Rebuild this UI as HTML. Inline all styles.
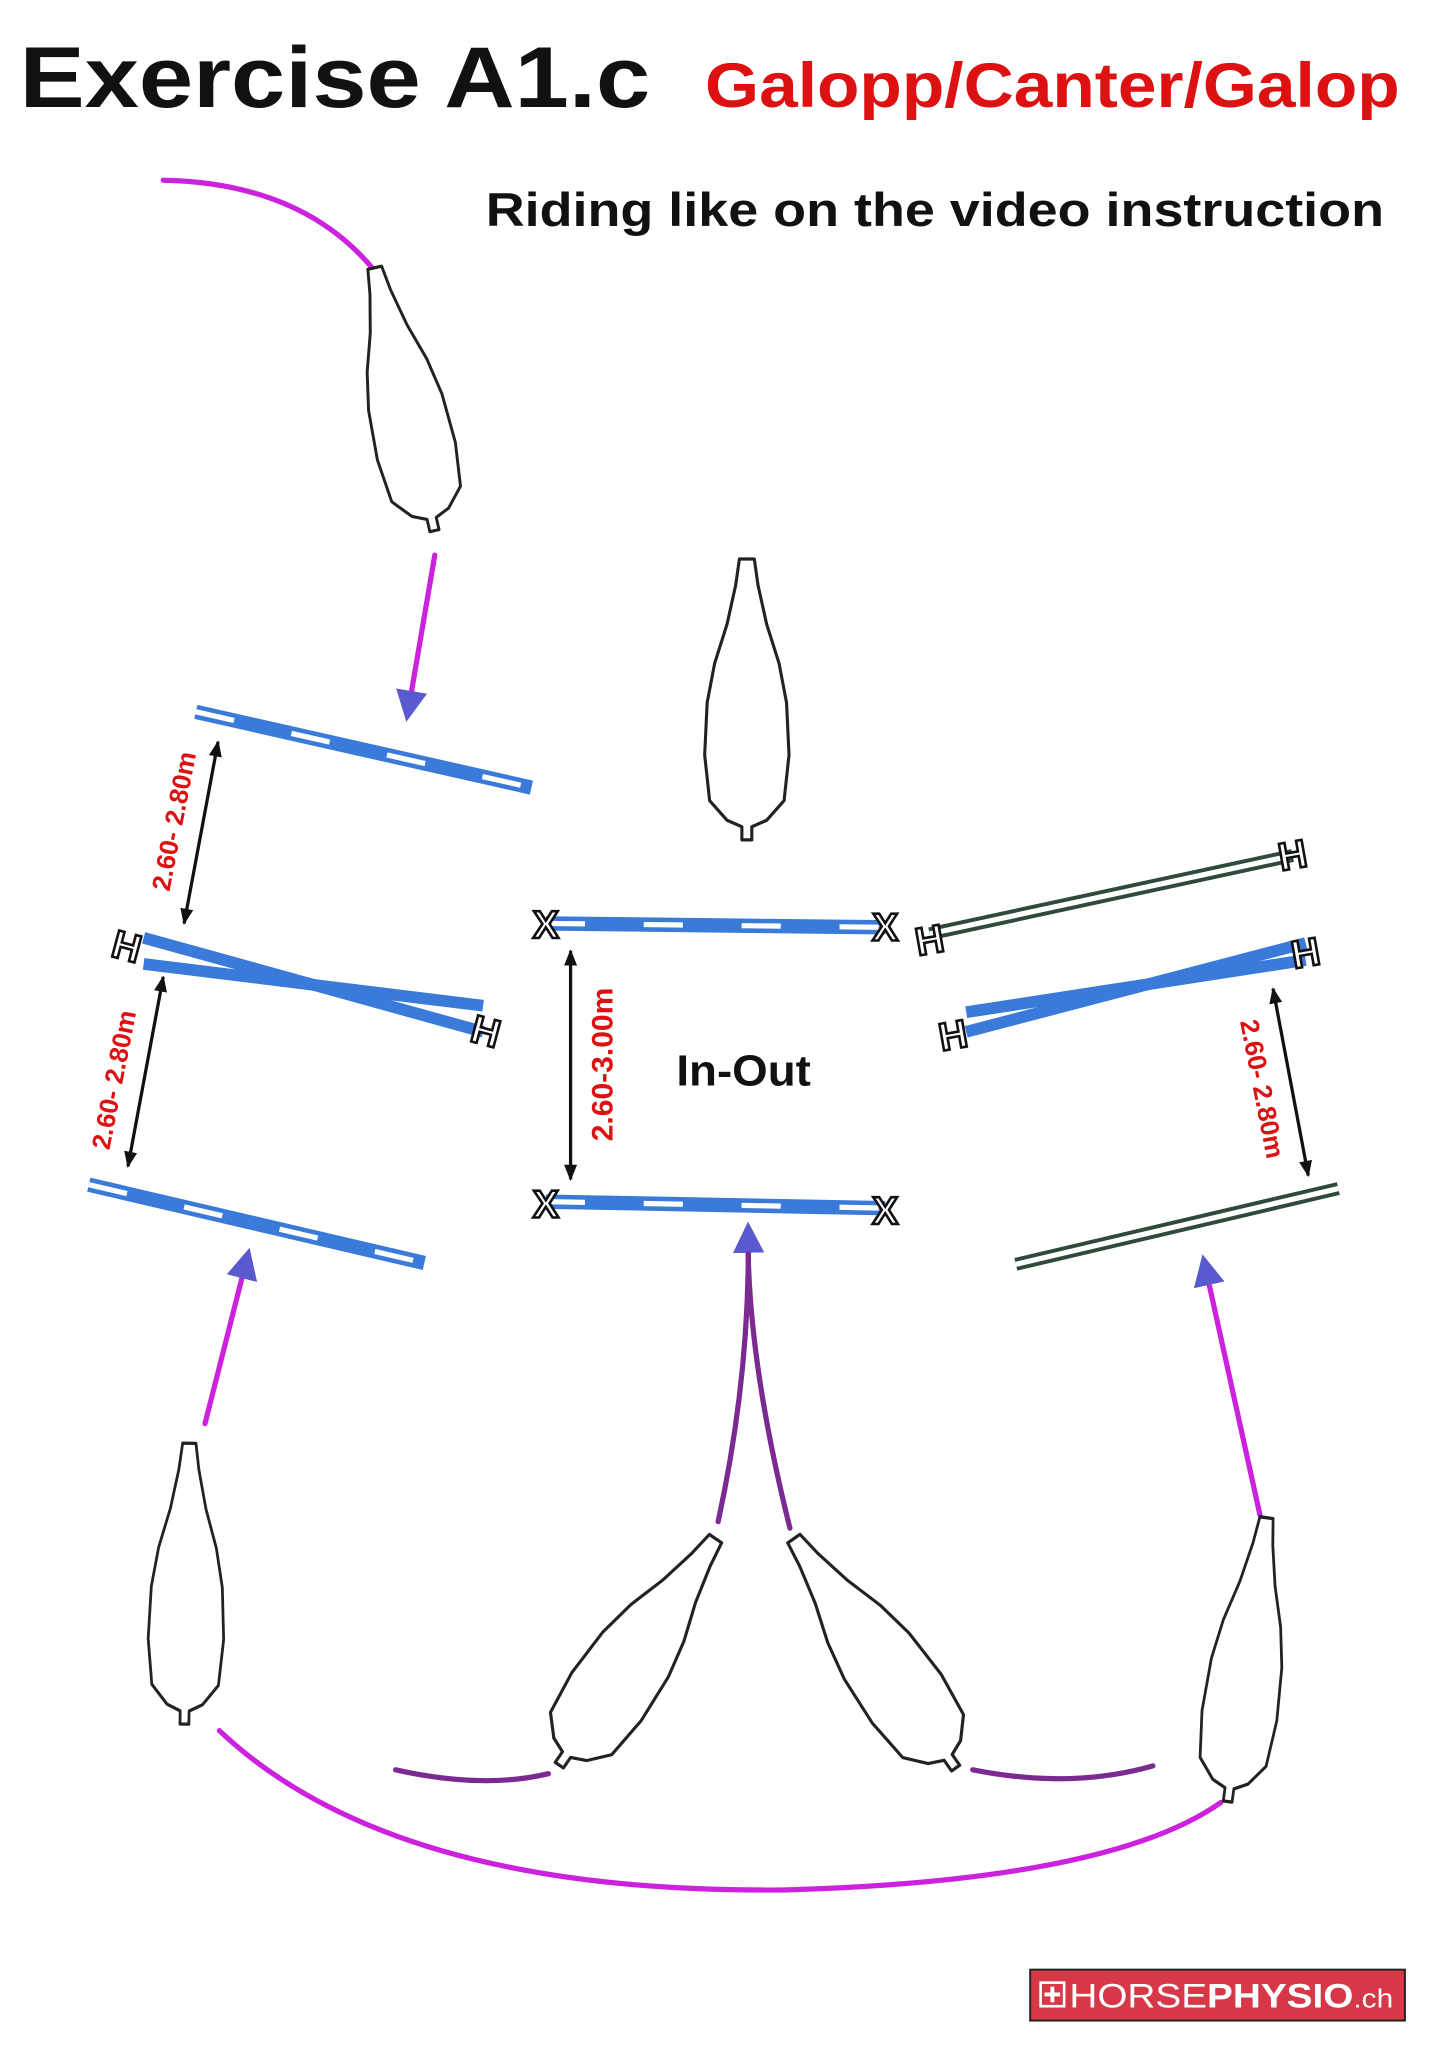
<!DOCTYPE html>
<html><head><meta charset="utf-8"><style>
html,body{margin:0;padding:0;background:#fff;}
svg{display:block;}
text{font-family:"Liberation Sans",sans-serif;}
</style></head><body>
<svg width="1448" height="2048" viewBox="0 0 1109 1568" preserveAspectRatio="none" xmlns="http://www.w3.org/2000/svg">
<defs>
<path id="horse" d="M-6,0 L6,0 L9,20 L16,50 L26,80 L32,110 L34,150 L30,185 L16,200 L4,205 L4,215 L-4,215 L-4,205 L-16,200 L-30,185 L-34,150 L-32,110 L-26,80 L-16,50 L-9,20 Z" fill="#fff" stroke="#222" stroke-width="2.5" stroke-linejoin="round"/>
<marker id="bh" viewBox="0 0 10 10" refX="8" refY="5" markerWidth="6" markerHeight="6" orient="auto-start-reverse"><path d="M0,0 L10,5 L0,10 Z" fill="#5a5ad0"/></marker>
<marker id="kh" viewBox="0 0 10 10" refX="9" refY="5" markerWidth="5" markerHeight="5" orient="auto-start-reverse"><path d="M0,1 L10,5 L0,9 Z" fill="#111"/></marker>
</defs>
<rect width="1109" height="1568" fill="#fff"/>
<text x="15" y="82" font-size="66" font-weight="bold" fill="#111" textLength="483" lengthAdjust="spacingAndGlyphs">Exercise A1.c</text>
<text x="540" y="82" font-size="48" font-weight="bold" fill="#d11" textLength="532" lengthAdjust="spacingAndGlyphs">Galopp/Canter/Galop</text>
<text x="372" y="173" font-size="36" font-weight="bold" fill="#111" textLength="688" lengthAdjust="spacingAndGlyphs">Riding like on the video instruction</text>

<g fill="none" stroke="#cc22dd" stroke-width="4" stroke-linecap="round">
<path d="M125,138 Q230,140 285,205"/>
<path d="M333,425 L312,548" marker-end="url(#bh)"/>
<path d="M157,1090 L190,960" marker-end="url(#bh)"/>
<path d="M965,1160 L922,965" marker-end="url(#bh)"/>
<path d="M168,1325 Q300,1450 600,1447 Q850,1440 935,1380"/>
</g>
<g fill="none" stroke="#7a2a90" stroke-width="4" stroke-linecap="round">
<path d="M550,1165 Q575,1050 573,940" marker-end="url(#bh)"/>
<path d="M605,1170 Q575,1050 573,960"/>
<path d="M303,1355 Q370,1370 420,1358"/>
<path d="M745,1355 Q820,1370 883,1352"/>
</g>

<use href="#horse" transform="translate(287,205) rotate(-12.8) scale(0.9,0.96)"/>
<use href="#horse" transform="translate(572,428) scale(0.95,1)"/>
<use href="#horse" transform="translate(145,1105) rotate(1) scale(0.85,1)"/>
<use href="#horse" transform="translate(548,1178) rotate(34.6) scale(0.95,0.98)"/>
<use href="#horse" transform="translate(608,1178) rotate(-35.2) scale(0.95,1)"/>
<use href="#horse" transform="translate(970,1162) rotate(7.8) scale(0.85,1.02)"/>

<g stroke-linecap="butt">
<g stroke="#3a7ad8"><line x1="150" y1="545" x2="407" y2="603" stroke-width="11"/><line x1="68" y1="907" x2="325" y2="967" stroke-width="11"/>
<line x1="418" y1="707" x2="678" y2="710" stroke-width="11"/><line x1="418" y1="920" x2="678" y2="925" stroke-width="11"/>
<line x1="110" y1="718" x2="370" y2="790" stroke-width="9"/><line x1="110" y1="738" x2="370" y2="770" stroke-width="9"/>
<line x1="740" y1="790" x2="1000" y2="722" stroke-width="9"/><line x1="740" y1="775" x2="1000" y2="735" stroke-width="9"/></g>
<g stroke="#fff" stroke-width="4" stroke-dasharray="30,45"><line x1="150" y1="545" x2="407" y2="603"/><line x1="68" y1="907" x2="325" y2="967"/>
<line x1="418" y1="707" x2="678" y2="710"/><line x1="418" y1="920" x2="678" y2="925"/></g>
<g stroke="#2f4a3a" stroke-width="10"><line x1="712" y1="715" x2="990" y2="655"/><line x1="778" y1="968" x2="1025" y2="910"/></g>
<g stroke="#fff" stroke-width="4"><line x1="712" y1="715" x2="990" y2="655"/><line x1="778" y1="968" x2="1025" y2="910"/></g>
</g>
<g font-size="30" font-weight="bold" fill="#fff" stroke="#111" stroke-width="2" text-anchor="middle">
<text x="97" y="735" transform="rotate(15 97 725)">H</text>
<text x="372" y="800" transform="rotate(15 372 790)">H</text>
<text x="712" y="730" transform="rotate(-10 712 720)">H</text>
<text x="990" y="665" transform="rotate(-10 990 655)">H</text>
<text x="1000" y="740" transform="rotate(-10 1000 730)">H</text>
<text x="730" y="803" transform="rotate(-10 730 793)">H</text>
<text x="418" y="718">X</text><text x="678" y="720">X</text>
<text x="418" y="932">X</text><text x="678" y="937">X</text>
</g>

<g stroke="#111" stroke-width="2.5" fill="none">
<line x1="167" y1="568" x2="141" y2="707" marker-start="url(#kh)" marker-end="url(#kh)"/>
<line x1="125" y1="748" x2="98" y2="893" marker-start="url(#kh)" marker-end="url(#kh)"/>
<line x1="437" y1="728" x2="437" y2="903" marker-start="url(#kh)" marker-end="url(#kh)"/>
<line x1="975" y1="757" x2="1002" y2="900" marker-start="url(#kh)" marker-end="url(#kh)"/>
</g>
<g font-size="20" font-weight="bold" fill="#d11" text-anchor="middle">
<text transform="translate(140,630) rotate(-79)">2.60- 2.80m</text>
<text transform="translate(94,828) rotate(-79)">2.60- 2.80m</text>
<text transform="translate(469,815) rotate(-90)" font-size="23">2.60-3.00m</text>
<text transform="translate(960,835) rotate(79)">2.60- 2.80m</text>
</g>
<text x="518" y="831" font-size="33" font-weight="bold" fill="#111" textLength="103" lengthAdjust="spacingAndGlyphs">In-Out</text>

<rect x="789" y="1508" width="287" height="39" fill="#d63848" stroke="#222" stroke-width="1.5"/>
<rect x="797" y="1518" width="18" height="18" fill="none" stroke="#fff" stroke-width="2"/>
<path d="M806,1521 v12 M800,1527 h12" stroke="#fff" stroke-width="3"/>
<text x="819" y="1537" font-size="26" fill="#fff" textLength="248" lengthAdjust="spacingAndGlyphs">HORSE<tspan font-weight="bold">PHYSIO</tspan><tspan font-size="20">.ch</tspan></text>
</svg>
</body></html>
